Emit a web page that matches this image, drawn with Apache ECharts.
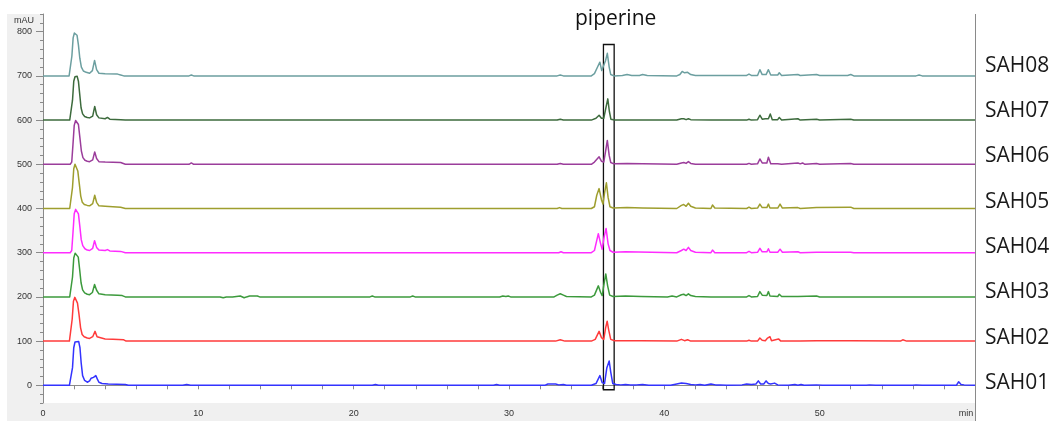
<!DOCTYPE html>
<html>
<head>
<meta charset="utf-8">
<script src="https://cdn.jsdelivr.net/npm/echarts@6/dist/echarts.min.js"></script>
<style>html,body{margin:0;padding:0;background:#fff}#c{width:1057px;height:421px}</style>
</head>
<body>
<div id="c"></div>
<script>
// ---- data (retention time in min, signal in mAU as displayed) ----
const sampleNames = ['SAH01','SAH02','SAH03','SAH04','SAH05','SAH06','SAH07','SAH08'];
const xTickValues = [0,10,20,30,40,50,60];
const xTickLabels = ['0','10','20','30','40','50','min'];
const yTickValues = [0,100,200,300,400,500,600,700,800];
const yTickLabels = ['0','100','200','300','400','500','600','700','800'];
const yAxisUnit = 'mAU';
const peakTitle = 'piperine';
const boxTime = [36.08, 36.77];
const boxSignal = [-10, 771];

const SAH01 = [[0,0],[1.7,0],[1.82,4],[1.9,40],[1.98,85],[2.06,98],[2.15,100],[2.3,99],[2.38,85],[2.46,50],[2.55,22],[2.68,11],[2.85,7],[3.0,10],[3.1,16],[3.25,18],[3.4,22],[3.5,14],[3.6,7],[3.8,4],[4.2,3],[5.3,2],[5.5,0],[9.0,0],[9.25,2],[9.5,0],[21.2,0],[21.4,2],[21.6,0],[29.0,0],[29.2,2],[29.4,0],[32.3,0],[32.5,3],[33.0,3],[33.2,1],[33.5,2],[33.7,0],[35.3,0],[35.6,4],[35.85,22],[36.0,6],[36.15,4],[36.3,40],[36.45,55],[36.55,30],[36.68,4],[36.9,2],[37.2,1],[37.5,2],[37.8,1],[38.2,1],[38.6,2],[39.0,0],[40.4,0],[40.8,3],[41.1,5],[41.4,4],[41.7,2],[42.0,1],[42.3,2],[42.6,0],[43.0,3],[43.3,1],[43.6,1],[44.0,0],[45.0,1],[45.3,3],[45.6,2],[45.9,3],[46.05,10],[46.2,3],[46.4,3],[46.55,10],[46.7,4],[46.85,3],[47.1,5],[47.3,1],[48.0,0],[48.4,2],[48.6,0],[48.8,2],[49.0,0],[49.8,1],[50.2,0],[53.0,0],[53.2,1],[53.6,0],[56.0,0],[56.2,1],[56.6,0],[58.8,0],[58.95,8],[59.1,2],[59.3,1],[60,0]];
const SAH02 = [[0,100],[1.7,100],[1.8,104],[1.88,150],[1.96,190],[2.05,199],[2.13,197],[2.22,186],[2.32,160],[2.42,130],[2.52,115],[2.65,110],[2.85,107],[3.0,106],[3.2,110],[3.35,122],[3.48,110],[3.6,106],[4.0,105],[4.5,104],[5.2,103],[5.35,100],[33.0,100],[33.3,103],[33.6,100],[35.3,100],[35.55,104],[35.8,122],[35.95,108],[36.1,104],[36.22,130],[36.32,145],[36.42,125],[36.55,104],[36.8,101],[37.5,101],[38.5,101],[40.8,100],[41.1,104],[41.3,101],[41.5,103],[41.7,100],[43.0,100],[43.1,102],[43.3,100],[45.3,100],[45.45,102],[45.6,100],[46.0,100],[46.15,107],[46.3,102],[46.5,101],[46.62,106],[46.7,103],[46.8,110],[46.9,101],[47.35,105],[47.5,100],[48.5,100],[48.6,103],[48.75,100],[49.8,101],[52.0,101],[55.2,100],[55.35,103],[55.6,100],[60,100]];
const SAH03 = [[0,200],[1.72,200],[1.82,204],[1.9,245],[1.98,288],[2.07,299],[2.17,300],[2.27,290],[2.36,262],[2.45,232],[2.55,216],[2.68,209],[2.85,206],[3.0,205],[3.18,210],[3.32,228],[3.45,215],[3.6,207],[4.0,205],[4.8,204],[5.1,203],[5.3,200],[11.4,200],[11.6,198],[11.8,200],[12.2,200],[12.3,202],[12.7,202],[12.8,200],[12.95,198],[13.1,200],[13.3,202],[13.8,202],[13.95,200],[21.05,200],[21.2,202],[21.35,200],[23.65,200],[23.8,202],[23.95,200],[29.4,200],[29.6,202],[29.8,201],[29.95,202],[30.1,200],[32.9,200],[33.1,204],[33.3,207],[33.5,204],[33.7,201],[35.3,200],[35.5,204],[35.75,225],[35.9,210],[36.0,203],[36.12,230],[36.23,252],[36.35,225],[36.48,204],[36.7,201],[37.5,202],[38.5,201],[40.2,200],[40.5,202],[40.8,200],[41.1,205],[41.25,206],[41.4,203],[41.55,207],[41.7,203],[42.0,201],[43.0,200],[43.1,204],[43.25,200],[45.3,200],[45.45,203],[45.6,200],[46.0,201],[46.15,212],[46.3,204],[46.6,203],[46.7,212],[46.8,202],[47.3,201],[47.4,206],[47.55,201],[48.6,201],[49.8,202],[50.0,200],[60,200]];
const SAH04 = [[0,300],[1.75,300],[1.85,305],[1.93,345],[2.01,388],[2.1,398],[2.18,399],[2.28,388],[2.37,360],[2.46,330],[2.56,316],[2.7,309],[2.85,306],[3.0,305],[3.2,310],[3.32,327],[3.45,312],[3.6,306],[4.0,305],[4.15,307],[4.3,304],[5.0,303],[5.3,300],[29.5,300],[29.6,302],[29.8,300],[33.2,300],[33.35,302],[33.5,300],[35.3,300],[35.5,305],[35.75,343],[35.9,320],[36.0,308],[36.12,335],[36.25,355],[36.38,320],[36.5,305],[36.7,301],[37.5,302],[40.8,300],[41.1,305],[41.25,308],[41.4,305],[41.55,312],[41.7,305],[42.0,301],[43.0,300],[43.1,306],[43.25,300],[45.3,300],[45.45,303],[45.6,300],[46.0,301],[46.15,310],[46.3,302],[46.6,302],[46.7,309],[46.8,301],[47.3,301],[47.45,308],[47.6,301],[48.6,302],[48.75,300],[49.8,301],[52.0,301],[52.2,300],[60,300]];
const SAH05 = [[0,400],[1.72,400],[1.82,404],[1.9,448],[1.98,490],[2.06,500],[2.14,498],[2.24,485],[2.33,458],[2.43,428],[2.53,414],[2.66,409],[2.85,407],[3.0,406],[3.2,411],[3.33,430],[3.45,414],[3.6,406],[4.0,405],[5.0,403],[5.3,400],[33.1,400],[33.25,402],[33.4,400],[35.3,400],[35.5,404],[35.65,430],[35.8,445],[35.95,420],[36.05,410],[36.15,435],[36.27,458],[36.38,425],[36.5,404],[36.7,401],[37.6,402],[38.6,401],[40.8,400],[41.1,407],[41.25,409],[41.4,405],[41.55,412],[41.7,405],[42.0,401],[43.0,400],[43.1,408],[43.25,401],[45.3,400],[45.45,403],[45.6,400],[46.0,401],[46.15,410],[46.3,402],[46.6,402],[46.7,410],[46.8,401],[47.3,401],[47.45,410],[47.6,401],[48.6,402],[48.75,400],[49.8,402],[52.0,403],[52.2,400],[60,400]];
const SAH06 = [[0,500],[1.75,500],[1.85,505],[1.93,545],[2.01,588],[2.1,599],[2.18,600],[2.28,590],[2.37,562],[2.47,530],[2.57,515],[2.7,509],[2.85,507],[3.0,506],[3.2,510],[3.33,528],[3.45,513],[3.6,506],[4.0,505],[5.0,504],[5.3,500],[9.4,500],[9.55,503],[9.7,500],[29.5,500],[29.6,503],[29.75,500],[33.1,500],[33.3,502],[33.5,500],[35.3,500],[35.5,505],[35.8,517],[35.95,507],[36.1,505],[36.22,530],[36.33,554],[36.45,520],[36.55,504],[36.75,501],[37.6,502],[38.6,501],[40.8,500],[41.1,503],[41.25,504],[41.4,502],[41.55,506],[41.7,502],[42.0,500],[43.0,500],[43.1,504],[43.25,500],[45.3,500],[45.45,502],[45.6,500],[46.0,501],[46.15,512],[46.3,503],[46.6,503],[46.7,516],[46.85,501],[47.3,501],[47.4,504],[47.55,500],[48.6,503],[48.75,501],[48.9,503],[49.05,500],[49.8,502],[50.0,500],[52.0,502],[52.2,500],[60,500]];
const SAH07 = [[0,600],[1.72,600],[1.82,604],[1.9,645],[1.98,688],[2.06,698],[2.2,699],[2.28,688],[2.36,660],[2.45,628],[2.55,614],[2.68,608],[2.85,606],[3.0,605],[3.2,609],[3.33,631],[3.45,612],[3.6,605],[4.0,603],[4.15,606],[4.3,602],[5.0,601],[5.3,600],[33.1,600],[33.3,602],[33.5,600],[35.3,600],[35.6,604],[35.8,611],[35.95,604],[36.1,604],[36.25,630],[36.36,648],[36.46,620],[36.56,602],[36.8,600],[40.8,600],[41.1,603],[41.25,603],[41.4,601],[41.55,603],[41.7,601],[43.0,600],[43.1,602],[43.25,600],[45.3,600],[45.45,602],[45.6,600],[46.0,601],[46.15,611],[46.3,602],[46.5,603],[46.6,605],[46.7,603],[46.82,614],[46.95,601],[47.3,601],[47.4,606],[47.55,600],[48.6,603],[48.75,600],[49.8,602],[50.0,600],[52.0,602],[52.2,600],[60,600]];
const SAH08 = [[0,700],[1.68,700],[1.78,704],[1.86,745],[1.94,786],[2.02,797],[2.1,798],[2.19,792],[2.28,770],[2.37,740],[2.47,720],[2.6,711],[2.78,708],[3.0,706],[3.18,712],[3.32,735],[3.45,714],[3.6,706],[4.0,705],[4.8,704],[5.0,702],[5.2,700],[9.4,700],[9.55,702],[9.7,700],[29.5,700],[29.6,702],[29.75,700],[33.1,700],[33.3,702],[33.5,700],[35.3,700],[35.5,705],[35.7,720],[35.85,731],[35.97,712],[36.07,708],[36.22,735],[36.33,751],[36.45,720],[36.55,703],[36.75,700],[37.3,701],[37.6,703],[37.9,701],[38.4,701],[38.6,703],[38.9,701],[40.8,700],[41.0,703],[41.15,710],[41.3,707],[41.5,708],[41.7,703],[42.0,701],[43.0,701],[43.1,705],[43.25,701],[45.3,701],[45.45,704],[45.6,701],[46.0,701],[46.15,714],[46.3,703],[46.55,703],[46.7,714],[46.85,702],[47.3,702],[47.4,707],[47.55,701],[48.6,703],[48.75,701],[49.8,703],[50.0,701],[51.8,701],[52.0,703],[52.2,700],[56.2,700],[56.4,702],[56.6,700],[60,700]];
const sampleData = [SAH01, SAH02, SAH03, SAH04, SAH05, SAH06, SAH07, SAH08];

// ---- styles ----
const palette = ['#3333ff','#ff3b3b','#3c9a3c','#ff2cff','#9e9e2e','#9b3d9b','#3d6b3d','#6c9fa0'];
const labelFont = 'Open Sans';
const axisFont = 'Liberation Sans';

const chart = echarts.init(document.getElementById('c'), null, {renderer: 'canvas'});

const series = sampleNames.map((name, i) => {
  const s = {
    name: name,
    type: 'line',
    data: sampleData[i],
    symbol: 'none',
    lineStyle: {color: palette[i], width: 1.5, join: 'round'},
    itemStyle: {color: palette[i]},
    clip: false,
    endLabel: {
      show: true,
      formatter: '{a}',
      distance: 10,
      offset: [0, -2.5 - i * 1.07],
      fontFamily: labelFont,
      fontSize: 21,
      color: '#1a1a1a'
    }
  };
  if (i === sampleNames.length - 1) {
    s.markArea = {
      silent: true,
      itemStyle: {color: 'rgba(0,0,0,0)', borderColor: '#111', borderWidth: 1.3},
      label: {show: false},
      data: [[{coord: [boxTime[0], boxSignal[1]]}, {coord: [boxTime[1], boxSignal[0]]}]]
    };
  }
  return s;
});

chart.setOption({
  animation: false,
  backgroundColor: '#ffffff',
  title: {
    text: peakTitle,
    left: 570,
    top: 4,
    textStyle: {fontFamily: labelFont, fontSize: 21, fontWeight: 'normal', color: '#111'}
  },
  grid: {left: 43, right: 82, top: 14, bottom: 18, containLabel: false, outerBoundsMode: 'none'},
  graphic: [
    {type: 'rect', silent: true, z: -10, shape: {x: 7, y: 14, width: 36, height: 407}, style: {fill: '#f0f0f0'}},
    {type: 'rect', silent: true, z: -10, shape: {x: 43, y: 403, width: 932, height: 18}, style: {fill: '#f0f0f0'}},
    {type: 'line', silent: true, z: 10, shape: {x1: 975.5, y1: 14, x2: 975.5, y2: 421}, style: {stroke: '#8a8a8a', lineWidth: 1}}
  ],
  xAxis: {
    type: 'value', min: 0, max: 60, interval: 2,
    axisLine: {lineStyle: {color: '#8a8a8a', width: 1}},
    axisTick: {length: 4, lineStyle: {color: '#8a8a8a'}},
    splitLine: {show: false},
    axisLabel: {
      fontFamily: axisFont, fontSize: 9, color: '#333', margin: 6,
      formatter: function (v) {
        const k = xTickValues.indexOf(v);
        if (k < 0) return '';
        return k === xTickValues.length - 1 ? '{u|' + xTickLabels[k] + '}' : xTickLabels[k];
      },
      rich: {u: {fontFamily: axisFont, fontSize: 9, color: '#333', padding: [0, 18, 0, 0]}}
    }
  },
  yAxis: [
    {
      type: 'value', min: -40, max: 840, interval: 20, position: 'left',
      axisLine: {show: true, lineStyle: {color: '#8a8a8a', width: 1}},
      axisTick: {show: true, length: 3, lineStyle: {color: '#8a8a8a'}},
      axisLabel: {show: false},
      splitLine: {show: false}
    },
    {
      type: 'value', min: -40, max: 840, position: 'left',
      name: yAxisUnit, nameLocation: 'end', nameGap: -7,
      nameTextStyle: {fontFamily: axisFont, fontSize: 9, color: '#333', align: 'right', verticalAlign: 'middle', padding: [0, 9, 0, 0]},
      axisLine: {show: false},
      axisTick: {show: true, length: 7, customValues: yTickValues, lineStyle: {color: '#8a8a8a'}},
      axisLabel: {
        show: true, customValues: yTickValues, margin: 11,
        fontFamily: axisFont, fontSize: 9, color: '#333',
        formatter: function (v) { const k = yTickValues.indexOf(v); return k < 0 ? '' : yTickLabels[k]; }
      },
      splitLine: {show: false}
    }
  ],
  series: series
});
</script>
</body>
</html>
